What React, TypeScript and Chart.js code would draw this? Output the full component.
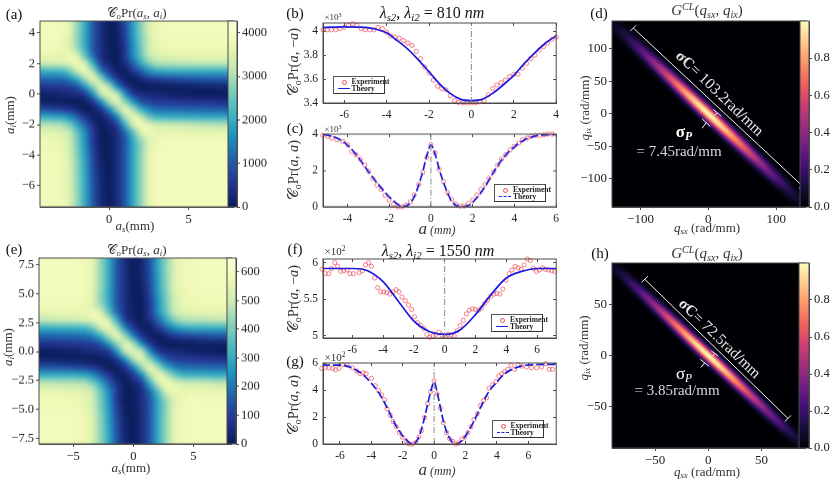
import React, { useEffect, useRef } from 'react';
import Chart from 'chart.js/auto';

// coincidence map, percent of full scale, rows a_i = 8 .. 0, columns a_s = -8 .. 8 step 0.5
const mapRows = [
  [91,91,91,91,91,91,91,91,91,91,90,84,66,45,23,8,1,8,23,45,66,82,89,90,91,91,91,91,91,91,91,91,91],
  [91,91,91,91,91,91,91,91,91,91,90,84,66,45,23,8,1,8,23,45,66,82,89,90,91,91,91,91,91,91,91,91,91],
  [91,91,91,91,91,91,91,91,91,91,90,84,66,45,23,8,1,7,22,45,66,82,89,90,91,91,91,91,91,91,91,91,91],
  [91,91,91,91,91,91,91,91,91,91,90,84,66,45,23,8,1,7,22,44,66,82,89,90,91,91,91,91,91,91,91,91,91],
  [91,91,91,91,91,91,91,91,91,91,90,84,66,45,23,8,1,6,21,44,65,81,89,90,91,91,91,91,91,91,91,91,91],
  [91,91,91,91,91,91,91,91,91,91,90,84,66,45,23,8,1,6,21,44,65,81,88,90,91,91,91,91,91,91,91,91,91],
  [91,91,91,91,91,91,91,91,91,91,90,84,66,45,23,8,1,5,20,43,65,81,88,90,91,91,91,91,91,91,91,91,91],
  [91,91,91,91,91,91,91,91,91,91,90,84,66,45,23,8,1,4,19,42,64,81,88,90,91,91,91,91,91,91,91,91,91],
  [91,91,91,91,91,91,91,91,91,91,90,84,66,45,23,8,1,3,17,41,63,80,87,90,91,91,91,91,91,91,91,91,91],
  [91,91,91,91,91,91,91,91,91,91,89,82,65,44,23,8,1,2,15,39,61,78,86,89,90,90,90,90,90,90,90,90,90],
  [90,90,90,90,90,90,90,90,90,91,87,82,68,47,23,9,2,1,12,37,60,77,85,87,88,88,88,88,88,88,88,88,88],
  [84,84,85,85,85,85,85,86,86,86,85,89,82,56,29,9,2,1,14,35,56,74,81,83,84,85,85,85,85,85,85,85,85],
  [71,72,72,73,73,73,74,75,76,77,78,83,89,78,47,16,6,1,9,25,44,61,70,71,72,72,73,73,73,73,73,73,73],
  [45,45,46,46,46,47,47,48,48,49,50,60,76,87,70,35,14,4,2,12,25,37,44,46,47,47,47,47,47,47,47,47,47],
  [25,25,26,26,26,27,27,28,28,29,29,35,48,70,86,66,35,13,3,1,7,13,16,18,20,21,22,23,24,25,25,25,25],
  [10,10,10,11,11,11,12,12,13,14,14,16,23,41,66,83,70,37,14,4,1,1,2,2,3,3,4,4,5,5,6,6,6],
  [1,1,1,1,1,1,2,2,3,4,6,7,9,15,39,74,83,74,39,15,9,7,6,4,3,2,2,1,1,1,1,1,1],
];

// G^CL band, percent, rows = offset across the band 0 .. 36 step 6, columns = along it 0 .. 160 step 20
const bandRows = [
  [100,92,76,57,40,26,13,5,1],
  [88,81,67,50,35,23,11,4,1],
  [60,55,46,34,24,16,8,3,1],
  [30,28,23,17,12,8,4,2,0],
  [11,10,8,6,4,3,1,1,0],
  [3,3,2,2,1,1,0,0,0],
  [0,0,0,0,0,0,0,0,0],
];

const bExpA = [-7,-6.8,-6.6,-6.4,-6.2,-6,-5.8,-5.6,-5.4,-5.2,-5,-4.8,-4.6,-4.4,-4.2,-4,-3.8,-3.6,-3.4,-3.2,-3,-2.8,-2.6,-2.4,-2.2,-2,-1.8,-1.6,-1.4,-1.2,-1,-0.8,-0.6,-0.4,-0.2,0,0.2,0.4,0.6,0.8,1,1.2,1.4,1.6,1.8,2,2.2,2.4,2.6,2.8,3,3.2,3.4,3.6,3.8,4];
const bExpV = [4.01,4.01,4.01,4.01,4.02,4.03,4.05,4.06,4.05,4.02,4.01,4.01,4.01,4.03,4.02,3.99,3.96,3.95,3.94,3.92,3.9,3.88,3.83,3.77,3.7,3.65,3.59,3.54,3.52,3.51,3.46,3.42,3.405,3.4,3.4,3.4,3.4,3.41,3.42,3.47,3.52,3.55,3.57,3.59,3.62,3.64,3.64,3.69,3.73,3.77,3.8,3.84,3.87,3.9,3.93,3.95];
const bTheoryA = [-7,-6,-5,-4.5,-4,-3.5,-3,-2.5,-2,-1.5,-1,-0.5,0,0.5,1,1.5,2,2.5,3,3.5,4];
const bTheoryV = [4.03,4.035,4.03,4.015,3.985,3.92,3.85,3.76,3.66,3.56,3.48,3.43,3.42,3.43,3.48,3.55,3.63,3.73,3.82,3.9,3.96];

const cExpA = [-5.19,-4.94,-4.75,-4.5,-4.21,-3.98,-3.8,-3.59,-3.38,-3.17,-2.98,-2.78,-2.59,-2.39,-2.2,-2,-1.79,-1.58,-1.38,-1.19,-0.98,-0.8,-0.59,-0.39,-0.2,0,0.2,0.39,0.6,0.8,0.99,1.19,1.4,1.59,1.8,2,2.2,2.39,2.59,2.78,3.01,3.2,3.38,3.58,3.79,3.98,4.2,4.39,4.6,4.8,5.01,5.2,5.41,5.61,5.82];
const cExpV = [3.93,3.87,3.78,3.69,3.59,3.41,3.04,2.86,2.62,2.3,1.95,1.55,1.2,0.96,0.63,0.37,0.15,0,0,0.09,0.28,0.65,1.23,1.9,2.71,3.41,2.97,2.06,1.38,0.77,0.41,0.15,0.04,0.04,0.18,0.37,0.65,0.96,1.23,1.57,1.94,2.3,2.62,2.86,3.13,3.32,3.5,3.69,3.78,3.87,3.93,3.93,3.96,4,4];
const cTheoryA = [-5.17,-5,-4.5,-4,-3.5,-3,-2.5,-2,-1.5,-1.35,-1,-0.8,-0.6,-0.4,-0.2,0,0.2,0.4,0.6,0.8,1,1.25,1.5,1.75,2,2.5,3,3.5,4,4.5,5,5.5,6];
const cTheoryV = [3.98,3.95,3.78,3.4,2.75,1.95,1.2,0.55,0.07,0,0.2,0.55,1.15,1.9,2.8,3.4,2.9,2.05,1.35,0.75,0.3,0.05,0,0.05,0.25,0.95,1.9,2.75,3.3,3.7,3.9,3.97,3.98];

const fExpA = [-7.96,-7.76,-7.54,-7.36,-7.14,-6.95,-6.75,-6.55,-6.35,-6.15,-5.93,-5.56,-5.34,-5.14,-4.95,-4.75,-4.55,-4.35,-4.15,-3.96,-3.76,-3.56,-3.36,-3.16,-2.97,-2.77,-2.55,-2.35,-2.15,-1.96,-1.76,-1.56,-1.36,-1.16,-0.97,-0.77,-0.57,-0.37,-0.18,0.02,0.22,0.42,0.62,0.81,1.01,1.21,1.41,1.6,1.8,2,2.2,2.4,2.59,2.79,2.99,3.19,3.38,3.58,3.78,3.98,4.18,4.37,4.57,4.77,4.97,5.16,5.36,5.56,5.76,5.96,6.15,6.35,6.55,6.75,6.95,7.14];
const fExpV = [5.91,5.85,5.85,5.92,6,5.95,5.88,5.89,5.9,5.85,5.85,5.86,5.89,5.97,6,5.95,5.79,5.66,5.6,5.6,5.59,5.57,5.6,5.63,5.6,5.53,5.48,5.42,5.36,5.26,5.18,5.14,5.1,5.02,4.98,5,5.02,5.05,5.01,4.99,5.02,5.01,5,5.07,5.14,5.21,5.3,5.35,5.37,5.36,5.35,5.38,5.44,5.49,5.54,5.57,5.58,5.57,5.64,5.76,5.85,5.9,5.95,5.93,5.91,5.97,6.05,6.03,5.92,5.88,5.9,5.93,5.91,5.9,5.89,5.88];
const fTheoryA = [-7.9,-7,-6,-5,-4,-3,-2,-1,0,1,2,3,4,5,6,7,7.3];
const fTheoryV = [5.92,5.92,5.92,5.89,5.74,5.47,5.2,5.06,5.02,5.08,5.29,5.56,5.79,5.88,5.92,5.92,5.92];

const gExpA = [-7.16,-6.94,-6.7,-6.47,-6.29,-6.06,-5.82,-5.54,-5.22,-4.94,-4.72,-4.53,-4.33,-3.99,-3.75,-3.53,-3.34,-3.15,-3,-2.8,-2.61,-2.41,-2.22,-2.03,-1.79,-1.59,-1.38,-1.16,-0.97,-0.8,-0.6,-0.41,-0.22,0,0.19,0.39,0.58,0.8,0.99,1.19,1.38,1.57,1.77,1.96,2.16,2.35,2.54,2.76,2.95,3.15,3.34,3.51,3.73,3.94,4.12,4.31,4.5,4.7,4.91,5.13,5.34,5.58,5.88,6.21,6.53,6.85,7.11,7.33,7.54];
const gExpV = [5.6,5.65,5.65,5.6,5.5,5.6,5.89,5.84,5.65,5.41,5.21,5.28,5.21,4.87,4.32,3.95,3.64,3.27,2.62,2.13,1.65,1.28,0.85,0.51,0.24,0,0,0.12,0.51,0.99,1.96,2.98,3.88,4.68,3.71,2.67,1.58,0.85,0.39,0.19,0,0.07,0.36,0.51,0.85,1.28,1.82,2.25,2.86,3.22,3.42,4.12,4.39,4.63,5.04,5.21,5.36,5.53,5.84,5.53,5.89,5.77,5.7,5.65,5.65,5.7,5.94,5.53,5.53];
const gTheoryA = [-7.15,-6,-5.5,-5,-4.5,-4,-3.5,-3,-2.5,-2,-1.6,-1.4,-1.2,-1,-0.8,-0.6,-0.4,-0.2,0,0.2,0.4,0.6,0.8,1,1.2,1.4,1.6,2,2.5,3,3.5,4,4.5,5,5.5,6,7,7.78];
const gTheoryV = [5.85,5.85,5.75,5.5,5.1,4.5,3.75,2.7,1.5,0.6,0.12,0,0.08,0.45,1.1,2,3,3.95,4.6,3.8,2.7,1.65,0.9,0.4,0.1,0,0.08,0.6,1.6,2.8,3.9,4.6,5.2,5.55,5.75,5.85,5.9,5.9];

// white measuring bars on the G^CL maps, [qs1, qi1, qs2, qi2]
const dMarks = [[-110.6,131.7,138,-110],[-115,127.3,-106.2,136.1],[133.6,-114.4,142.4,-105.6],[7.7,6.6,19,-3.7],[13.4,1.5,8.8,-2.6],[-9.2,-7.7,2.6,-19],[-3.1,-13.4,-9.2,-22.2]];
const hMarks = [[-59.6,75,74.9,-61.9],[-62.6,72,-56.6,78],[71.9,-64.9,77.9,-58.9],[2.9,4.5,9.5,-0.7],[6.3,2,3.9,-0.7],[-7.4,-3.9,0.7,-10.5],[-3.5,-7.3,-6.8,-11.8]];

const ylGnBuR = ['#081d58','#253494','#225ea8','#1d91c0','#41b6c4','#7fcdbb','#c7e9b4','#edf8b1','#ffffd9'];
const magma = ['#000004','#180f3d','#440f76','#721f81','#9e2f7f','#cd4071','#f1605d','#fd9668','#feca8d','#fcfdbf'];

const SERIF = '"Liberation Serif", serif';
const AXIS_COLOR = '#4a4a4a';
const TEXT_COLOR = '#222';

const hex = (c: string) => [1, 3, 5].map(i => parseInt(c.slice(i, i + 2), 16));
const colorAt = (stops: string[], t: number) => {
  const p = Math.max(0, Math.min(0.9999, t)) * (stops.length - 1);
  const i = Math.floor(p);
  const a = hex(stops[i]);
  const b = hex(stops[i + 1]);
  return a.map((v, k) => v + (b[k] - v) * (p - i));
};

const tableImage = (rows: number[][], stops: string[]) => {
  const img = document.createElement('canvas');
  img.width = rows[0].length;
  img.height = rows.length;
  const g = img.getContext('2d')!;
  const data = g.createImageData(img.width, img.height);
  rows.forEach((row, r) => row.forEach((v, c) => {
    const [red, green, blue] = colorAt(stops, v / 100);
    data.data.set([red, green, blue, 255], (r * img.width + c) * 4);
  }));
  g.putImageData(data, 0, 0);
  return img;
};

const frame = {
  id: 'frame',
  afterDraw(chart: any) {
    const { ctx, chartArea: a } = chart;
    ctx.save();
    ctx.strokeStyle = AXIS_COLOR;
    ctx.lineWidth = 1;
    ctx.strokeRect(a.left, a.top, a.right - a.left, a.bottom - a.top);
    ctx.restore();
  },
};

// coincidence map through the x/y scales; stretch = mm of the panel per mm of the table
const mapPlugin = (stretch: number) => ({
  id: 'map',
  beforeDatasetsDraw(chart: any) {
    const { ctx, chartArea: a, scales } = chart;
    const all = [...mapRows, ...mapRows.slice(0, -1).reverse().map(r => [...r].reverse())];
    const img = tableImage(all, ylGnBuR);
    const edge = 8.25 * stretch;
    const left = scales.x.getPixelForValue(-edge);
    const right = scales.x.getPixelForValue(edge);
    const top = scales.y.getPixelForValue(edge);
    const bottom = scales.y.getPixelForValue(-edge);
    ctx.save();
    ctx.beginPath();
    ctx.rect(a.left, a.top, a.right - a.left, a.bottom - a.top);
    ctx.clip();
    ctx.imageSmoothingEnabled = true;
    ctx.imageSmoothingQuality = 'high';
    ctx.drawImage(img, left, top, right - left, bottom - top);
    ctx.restore();
  },
});

// diagonal band: table columns run along qs = -qi, rows across it
const bandPlugin = (alongStep: number, acrossStep: number) => ({
  id: 'band',
  beforeDatasetsDraw(chart: any) {
    const { ctx, chartArea: a, scales } = chart;
    const half = bandRows.map(r => [...[...r].reverse().slice(0, -1), ...r]);
    const all = [...[...half].reverse().slice(0, -1), ...half];
    const img = tableImage(all, magma);
    const x0 = scales.x.getPixelForValue(0);
    const y0 = scales.y.getPixelForValue(0);
    const sx = scales.x.getPixelForValue(1) - x0;
    const sy = scales.y.getPixelForValue(-1) - y0;
    ctx.save();
    ctx.beginPath();
    ctx.rect(a.left, a.top, a.right - a.left, a.bottom - a.top);
    ctx.clip();
    ctx.fillStyle = magma[0];
    ctx.fill();
    ctx.imageSmoothingEnabled = true;
    ctx.imageSmoothingQuality = 'high';
    ctx.transform(sx * alongStep, sy * alongStep, sx * acrossStep, 0, x0, y0);
    ctx.drawImage(img, -img.width / 2, -img.height / 2, img.width, img.height);
    ctx.restore();
  },
});

const barPlugin = (stops: string[]) => ({
  id: 'bar',
  beforeDatasetsDraw(chart: any) {
    const { ctx, chartArea: a } = chart;
    const grad = ctx.createLinearGradient(0, a.bottom, 0, a.top);
    stops.forEach((c, i) => grad.addColorStop(i / (stops.length - 1), c));
    ctx.fillStyle = grad;
    ctx.fillRect(a.left, a.top, a.right - a.left, a.bottom - a.top);
  },
});

const fitTo = (size: number) => (s: any) => {
  if (s.isHorizontal()) s.height = size;
  else s.width = size;
  s.paddingLeft = s.paddingRight = s.paddingTop = s.paddingBottom = 0;
};
const fixedTicks = (values: number[]) => (s: any) => {
  s.ticks = values.map(value => ({ value }));
};
const LEFT = 48, BOTTOM = 28, EDGE = 8;

const axis = (pos: string, min: number, max: number, values: number[], label: (v: number) => string, size: number, inward: boolean) => ({
  type: 'linear',
  position: pos,
  min,
  max,
  afterBuildTicks: fixedTicks(values),
  afterFit: fitTo(pos === 'left' ? LEFT : pos === 'right' ? 36 : BOTTOM),
  border: { color: AXIS_COLOR },
  grid: { drawOnChartArea: false, drawTicks: true, tickLength: inward ? -3 : 3, color: AXIS_COLOR },
  ticks: { autoSkip: false, maxRotation: 0, padding: inward ? 8 : 2, color: TEXT_COLOR, font: { family: SERIF, size }, callback: (v: number) => label(v) },
});

const mirror = (pos: string, min: number, max: number, values: number[]) => ({
  type: 'linear',
  position: pos,
  min,
  max,
  afterBuildTicks: fixedTicks(values),
  afterFit: fitTo(0),
  border: { display: false },
  grid: { drawOnChartArea: false, drawTicks: true, tickLength: -3, color: AXIS_COLOR },
  ticks: { display: false },
});

const points = (xs: number[], ys: number[]) => xs.map((x, i) => ({ x, y: ys[i] }));
const minus = (v: number) => String(v).replace('-', '\u2212');
const oneDec = (v: number) => v.toFixed(1).replace('-', '\u2212');

const baseOptions = (scales: any, left = 0) => ({
  responsive: false,
  animation: false,
  devicePixelRatio: 1,
  layout: { padding: { top: EDGE, right: 0, left, bottom: 0 } },
  plugins: { legend: { display: false }, tooltip: { enabled: false } },
  scales,
});

type Box = [number, number, number, number];
type Spec = { box: Box; right: number; config: any };

const linePanel = (box: Box, xr: number[], yr: number[], xt: number[], yt: number[], ea: number[], ev: number[], ta: number[], tv: number[], dashed: boolean): Spec => ({
  box,
  right: EDGE,
  config: {
    type: 'scatter',
    data: {
      datasets: [
        { data: points([0, 0], yr), showLine: true, pointRadius: 0, borderColor: '#8c8c8c', borderWidth: 1, borderDash: [6, 2, 1, 2] },
        { data: points(ta, tv), showLine: true, pointRadius: 0, borderColor: '#1c1ce0', borderWidth: 1.7, cubicInterpolationMode: 'monotone', borderDash: dashed ? [8, 3] : [] },
        { data: points(ea, ev), pointRadius: 2.1, pointStyle: 'circle', pointBorderColor: 'rgba(240,70,80,0.85)', pointBorderWidth: 0.8, pointBackgroundColor: 'rgba(255,255,255,0)', clip: false },
      ],
    },
    options: baseOptions({
      x: axis('bottom', xr[0], xr[1], xt, v => String(v), 11.5, true),
      y: axis('left', yr[0], yr[1], yt, v => String(v), 11.5, true),
      x2: mirror('top', xr[0], xr[1], xt),
      y2: mirror('right', yr[0], yr[1], yt),
    }),
    plugins: [frame],
  },
});

const mapPanel = (box: Box, xr: number[], yr: number[], xt: number[], yt: number[], yLabel: (v: number) => string, size: number, plugin: any, marks: number[][]): Spec => ({
  box,
  right: EDGE,
  config: {
    type: 'scatter',
    data: {
      datasets: marks.map(m => ({
        data: [{ x: m[0], y: m[1] }, { x: m[2], y: m[3] }],
        showLine: true,
        pointRadius: 0,
        borderColor: '#f2f2f2',
        borderWidth: 1,
      })),
    },
    options: baseOptions({
      x: axis('bottom', xr[0], xr[1], xt, minus, size, false),
      y: axis('left', yr[0], yr[1], yt, yLabel, size, false),
    }),
    plugins: [plugin, frame],
  },
});

const barPanel = (box: Box, max: number, ticks: number[], label: (v: number) => string, stops: string[]): Spec => ({
  box,
  right: 36,
  config: {
    type: 'scatter',
    data: { datasets: [] },
    options: baseOptions({
      x: { type: 'linear', position: 'bottom', display: false, afterFit: fitTo(BOTTOM) },
      y: axis('right', 0, max, ticks, label, 12.5, false),
    }, LEFT),
    plugins: [barPlugin(stops), frame],
  },
});

const panels: Spec[] = [
  mapPanel([39.5, 21.3, 186.5, 185.7], [-4.35, 7.86], [-7.39, 4.79], [0, 5], [-6, -4, -2, 0, 2, 4], minus, 12.5, mapPlugin(1), []),
  barPanel([227.7, 21.3, 9, 185.7], 4270, [0, 1000, 2000, 3000, 4000], String, ylGnBuR),
  linePanel([322.7, 22.7, 230, 80], [-7, 4], [3.4, 4.067], [-6, -4, -2, 0, 2, 4], [3.4, 3.6, 3.8, 4], bExpA, bExpV, bTheoryA, bTheoryV, false),
  linePanel([322.7, 134.3, 230, 72.4], [-5.17, 6], [0, 4], [-4, -2, 0, 2, 4, 6], [0, 2, 4], cExpA, cExpV, cTheoryA, cTheoryV, true),
  mapPanel([611.7, 20.7, 186.6, 186], [-142, 144], [-143, 142.5], [-100, 0, 100], [-100, -50, 0, 50, 100], minus, 13, bandPlugin(20, 4.5), dMarks),
  barPanel([800, 20.7, 9.3, 186], 1, [0, 0.2, 0.4, 0.6, 0.8], oneDec, magma),
  mapPanel([38.7, 258.3, 185.3, 185.7], [-7.84, 8.2], [-7.99, 8.09], [-5, 0, 5], [-7.5, -5, -2.5, 0, 2.5, 5, 7.5], oneDec, 12.5, mapPlugin(1.35), []),
  barPanel([227, 258.3, 9, 185.7], 649, [0, 100, 200, 300, 400, 500, 600], String, ylGnBuR),
  linePanel([322.7, 259, 230, 79.3], [-7.9, 7.24], [4.97, 6.05], [-6, -4, -2, 0, 2, 4, 6], [5, 5.5, 6], fExpA, fExpV, fTheoryA, fTheoryV, false),
  linePanel([322.7, 362.7, 230, 81.6], [-7.08, 7.78], [0, 6], [-6, -4, -2, 0, 2, 4, 6], [0, 2, 4, 6], gExpA, gExpV, gTheoryA, gTheoryV, true),
  mapPanel([611.7, 262.7, 186.6, 185.6], [-90.4, 91.8], [-91, 91], [-50, 0, 50], [-50, 0, 50], minus, 13, bandPlugin(13, 2.6), hMarks),
  barPanel([799.3, 262.7, 10, 185.6], 1, [0, 0.2, 0.4, 0.6, 0.8], oneDec, magma),
];

const Panel = ({ spec }: { spec: Spec }) => {
  const ref = useRef<HTMLCanvasElement>(null);
  const [x, y, w, h] = spec.box;
  const width = w + LEFT + spec.right;
  const height = h + EDGE + BOTTOM;

  useEffect(() => {
    if (!ref.current) return;
    const chart = new Chart(ref.current, spec.config);
    return () => chart.destroy();
  }, [spec]);

  return (
    <canvas
      ref={ref}
      width={width}
      height={height}
      style={{ position: 'absolute', left: x - LEFT, top: y - EDGE, width, height }}
    />
  );
};

const S = ({ children }: { children: React.ReactNode }) => (
  <sub style={{ fontSize: '68%', verticalAlign: '-0.3em', lineHeight: 0 }}>{children}</sub>
);
const U = ({ children }: { children: React.ReactNode }) => (
  <sup style={{ fontSize: '68%', verticalAlign: '0.45em', lineHeight: 0 }}>{children}</sup>
);

const Label = ({ x, y, size, rot = 0, color = '#333', bold = false, children }: any) => (
  <div
    style={{
      position: 'absolute',
      left: x,
      top: y,
      transform: `translate(-50%, -50%) rotate(${rot}deg)`,
      fontFamily: SERIF,
      fontSize: size,
      fontWeight: bold ? 'bold' : 'normal',
      color,
      whiteSpace: 'nowrap',
      lineHeight: 1,
    }}
  >
    {children}
  </div>
);

const Legend = ({ x, y, dashed }: { x: number; y: number; dashed: boolean }) => (
  <div style={{ position: 'absolute', left: x, top: y, width: 52, height: 17.5, background: '#fff', border: '1px solid #555', borderRight: '1.5px solid #333', borderBottom: '1.5px solid #333', boxSizing: 'border-box', fontFamily: SERIF, fontSize: 7.5, color: '#222', fontWeight: 'bold' }}>
    <div style={{ position: 'absolute', left: 8, top: 2.5, width: 3, height: 3, borderRadius: '50%', border: '0.8px solid #f04650' }} />
    <div style={{ position: 'absolute', left: 18, top: 0.5, lineHeight: '8px' }}>Experiment</div>
    <div style={{ position: 'absolute', left: 4, top: 11, width: 12, borderTop: `1.6px ${dashed ? 'dashed' : 'solid'} #1c1ce0` }} />
    <div style={{ position: 'absolute', left: 18, top: 8, lineHeight: '8px' }}>Theory</div>
  </div>
);

const coPr = (inner: React.ReactNode) => <>𝒞<S>o</S>Pr({inner})</>;
const mapTitle = coPr(<><i>a</i><S><i>s</i></S>, <i>a</i><S><i>i</i></S></>);
const gTitle = <><i>G</i><U><i>CL</i></U>(<i>q</i><S><i>sx</i></S>, <i>q</i><S><i>ix</i></S>)</>;
const asLabel = <><i>a</i><S><i>s</i></S>(mm)</>;
const aiLabel = <><i>a</i><S><i>i</i></S>(mm)</>;
const qsLabel = <><i>q</i><S><i>sx</i></S> (rad/mm)</>;
const qiLabel = <><i>q</i><S><i>ix</i></S> (rad/mm)</>;
const aLabel = <><i style={{ fontSize: 17 }}>a</i> <i>(mm)</i></>;
const lambdaTitle = (nm: string) => <><i>λ</i><S><i>s2</i></S>, <i>λ</i><S><i>i2</i></S> = {nm} <i>nm</i></>;
const times = (e: string) => <>×10<U>{e}</U></>;

export default function App() {
  return (
    <div style={{ position: 'absolute', left: 0, top: 0, width: 830, height: 479, background: '#fff', overflow: 'hidden' }}>
      {panels.map((spec, i) => <Panel key={i} spec={spec} />)}

      <Label x={14} y={14} size={15} color="#111">(a)</Label>
      <Label x={295} y={13} size={15} color="#111">(b)</Label>
      <Label x={295} y={128} size={15} color="#111">(c)</Label>
      <Label x={599} y={13} size={15} color="#111">(d)</Label>
      <Label x={14} y={249} size={15} color="#111">(e)</Label>
      <Label x={295} y={249} size={15} color="#111">(f)</Label>
      <Label x={295} y={361} size={15} color="#111">(g)</Label>
      <Label x={600} y={253} size={15} color="#111">(h)</Label>

      <Label x={137} y={12} size={13}>{mapTitle}</Label>
      <Label x={135} y={225} size={13}>{asLabel}</Label>
      <Label x={9} y={115} size={13} rot={-90}>{aiLabel}</Label>
      <Label x={137} y={249} size={13}>{mapTitle}</Label>
      <Label x={131} y={467} size={13}>{asLabel}</Label>
      <Label x={7} y={347} size={13} rot={-90}>{aiLabel}</Label>

      <Label x={432} y={13} size={16} color="#111">{lambdaTitle('810')}</Label>
      <Label x={438} y={251} size={16} color="#111">{lambdaTitle('1550')}</Label>
      <Label x={293} y={62} size={14.5} rot={-90}>{coPr(<><i>a</i>, −<i>a</i></>)}</Label>
      <Label x={293} y={170} size={14.5} rot={-90}>{coPr(<><i>a</i>, <i>a</i></>)}</Label>
      <Label x={293} y={299} size={14.5} rot={-90}>{coPr(<><i>a</i>, −<i>a</i></>)}</Label>
      <Label x={293} y={405} size={14.5} rot={-90}>{coPr(<><i>a</i>, <i>a</i></>)}</Label>
      <Label x={437} y={228} size={12}>{aLabel}</Label>
      <Label x={437} y={469} size={12}>{aLabel}</Label>
      <Label x={333} y={17} size={9}>{times('3')}</Label>
      <Label x={333} y={129} size={9}>{times('3')}</Label>
      <Label x={335} y={251} size={11}>{times('2')}</Label>
      <Label x={335} y={357} size={11}>{times('2')}</Label>
      <Legend x={332.5} y={76} dashed={false} />
      <Legend x={494} y={184} dashed />
      <Legend x={491} y={314} dashed={false} />
      <Legend x={491.5} y={420} dashed />

      <Label x={707} y={10} size={15}>{gTitle}</Label>
      <Label x={707} y={227} size={13}>{qsLabel}</Label>
      <Label x={584} y={108} size={13} rot={-90}>{qiLabel}</Label>
      <Label x={707} y={253} size={15}>{gTitle}</Label>
      <Label x={707} y={471} size={13}>{qsLabel}</Label>
      <Label x={583} y={348} size={13} rot={-90}>{qiLabel}</Label>

      <Label x={720} y={93} size={15.5} rot={44} color="#e6e6e6"><b>σC</b>= 103.2rad/mm</Label>
      <Label x={684} y={131} size={17} color="#fff" bold>σ<S><i>P</i></S></Label>
      <Label x={679} y={151} size={15} color="#d8d8d8">= 7.45rad/mm</Label>
      <Label x={720} y={338} size={15.5} rot={44} color="#e6e6e6"><b>σC</b>= 72.5rad/mm</Label>
      <Label x={684} y={373} size={17} color="#fff">σ<S><i>P</i></S></Label>
      <Label x={677} y={390} size={15} color="#d8d8d8">= 3.85rad/mm</Label>
    </div>
  );
}
